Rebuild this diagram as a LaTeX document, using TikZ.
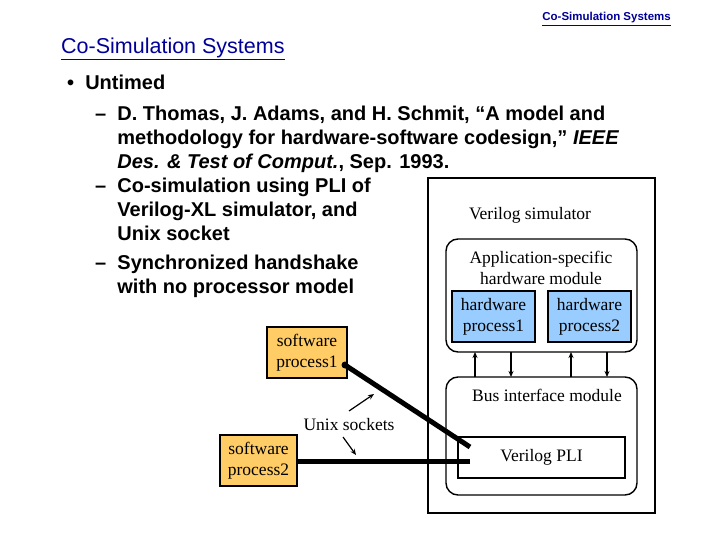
\documentclass[tikz,border=0pt]{standalone}
\usepackage{fontspec}
\setmainfont{Liberation Serif}
\newfontfamily\arial{Liberation Sans}
\usetikzlibrary{arrows.meta}
\definecolor{hw}{RGB}{153,204,255}
\definecolor{sw}{RGB}{255,204,102}
\definecolor{ttl}{RGB}{0,0,153}
\begin{document}
\begin{tikzpicture}[x=1pt,y=-1pt,
  box/.style={draw,line width=1.4pt,align=center,inner sep=0pt,font=\fontsize{17.5}{21}\selectfont},
  rbox/.style={draw,line width=1.4pt,rounded corners=12pt},
  lbl/.style={font=\fontsize{17.5}{21}\selectfont,align=center},
  txt/.style={align=left,anchor=north west,inner sep=0pt,font=\arial\bfseries\fontsize{20}{24}\selectfont},
  sm/.style={-{Stealth[length=6pt,width=5pt]},line width=1.2pt},
  thick line/.style={line width=5pt}]
\useasboundingbox (0,0) rectangle (720,540);
\node[anchor=east,inner sep=0pt,text=ttl,font=\arial\bfseries\fontsize{11.5}{13}\selectfont] (hdr) at (671,19) {\underline{Co-Simulation Systems}};
\node[anchor=west,inner sep=0pt,text=ttl,font=\arial\fontsize{21.5}{24}\selectfont] (title) at (61,49) {\underline{Co-Simulation Systems}};
\node[txt] (b1) at (67,75) {\textbullet\ \ Untimed};
\node[txt] (b2) at (95,106) {–\ \ D. Thomas, J. Adams, and H. Schmit, “A model and\\
\phantom{–\ \ }methodology for hardware-software codesign,” \textit{IEEE}\\
\phantom{–\ \ }\textit{Des. \& Test of Comput.}, Sep. 1993.\\
–\ \ Co-simulation using PLI of\\
\phantom{–\ \ }Verilog-XL simulator, and\\
\phantom{–\ \ }Unix socket\\[5pt]
–\ \ Synchronized handshake\\
\phantom{–\ \ }with no processor model};
\draw[line width=1.4pt] (428,178) rectangle (655,513);
\node[lbl] (vs) at (530,215) {Verilog simulator};
\draw[rbox] (446,239) rectangle (637,352);
\node[lbl] (asm) at (541,268) {Application-specific\\hardware module};
\node[box,fill=hw,minimum width=83pt,minimum height=51pt] (hw1) at (493.5,316.5) {hardware\\process1};
\node[box,fill=hw,minimum width=83pt,minimum height=51pt] (hw2) at (589.5,316.5) {hardware\\process2};
\draw[rbox] (446,377) rectangle (637,495);
\node[lbl] (bim) at (547,395) {Bus interface module};
\node[box,minimum width=167pt,minimum height=41pt] (pli) at (541.5,457.5) {Verilog PLI};
\foreach \x in {475,571} \draw[sm] (\x,377) -- (\x,352);
\foreach \x in {511,607} \draw[sm] (\x,352) -- (\x,377);
\node[box,fill=sw,minimum width=80pt,minimum height=51pt] (sw1) at (307,352.5) {software\\process1};
\node[box,fill=sw,minimum width=77pt,minimum height=51pt] (sw2) at (258.5,460.5) {software\\process2};
\coordinate (p1) at (345,365);
\coordinate (q1) at (470,447);
\coordinate (q2) at (470,461);
\fill (p1) circle (3.5pt);
\draw[thick line] (p1) -- (q1);
\draw[thick line] (sw2.east |- q2) -- (q2);
\node[lbl] (us) at (349,425) {Unix sockets};
\draw[sm] (349,411) -- (374,394);
\draw[sm] (343,437) -- (356,455);
\end{tikzpicture}
\end{document}
